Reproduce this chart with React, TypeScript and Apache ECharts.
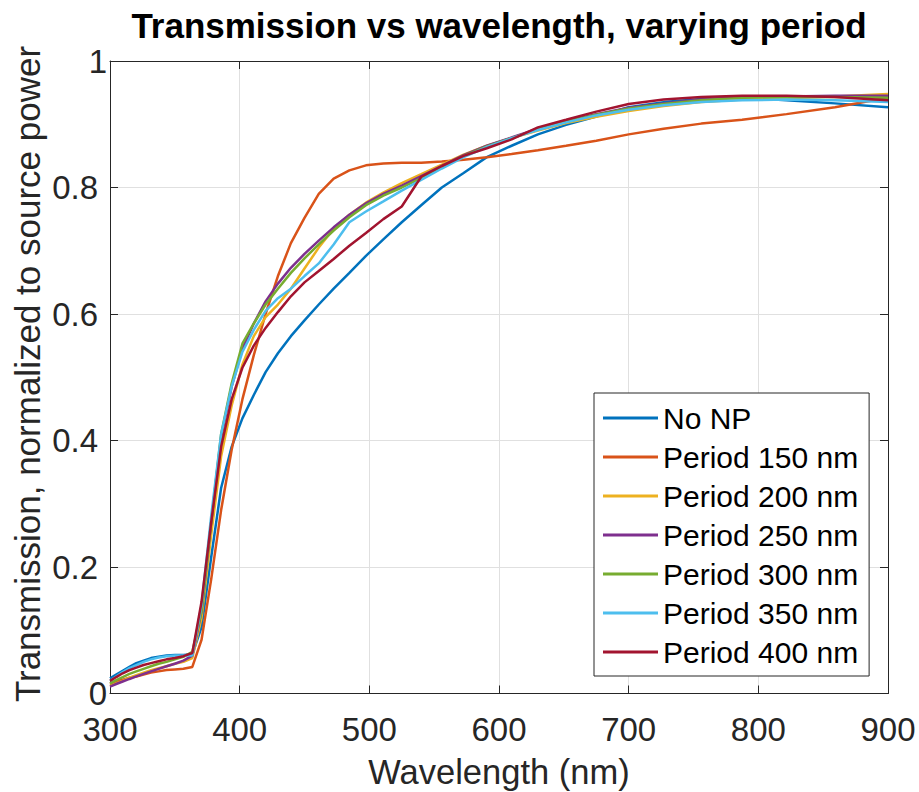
import React, { useEffect, useRef } from "react";
import * as echarts from "echarts";

// Sample wavelengths (nm)
const wavelengths = [
  300.0, 304.8, 309.8, 315.0, 320.3, 325.9, 331.6, 337.5, 343.6, 350.0, 356.6,
  363.5, 370.6, 378.0, 385.7, 393.8, 402.1, 410.9, 420.0, 429.5, 439.5, 450.0,
  461.0, 472.5, 484.6, 497.4, 510.8, 525.0, 540.0, 555.9, 572.7, 590.6, 609.7,
  630.0, 651.7, 675.0, 700.0, 726.9, 756.0, 787.5, 821.7, 859.1, 900.0,
];

const noNP = [
  0.024, 0.030, 0.036, 0.042, 0.048, 0.052, 0.056, 0.058, 0.060, 0.061, 0.061,
  0.062, 0.105, 0.215, 0.325, 0.390, 0.435, 0.472, 0.508, 0.538, 0.565, 0.590,
  0.615, 0.640, 0.665, 0.692, 0.718, 0.745, 0.772, 0.800, 0.823, 0.848, 0.866,
  0.884, 0.899, 0.912, 0.927, 0.935, 0.940, 0.942, 0.938, 0.933, 0.927,
];
const period150 = [
  0.015, 0.019, 0.022, 0.025, 0.027, 0.030, 0.033, 0.035, 0.037, 0.038, 0.039,
  0.042, 0.085, 0.180, 0.290, 0.385, 0.465, 0.535, 0.600, 0.660, 0.712, 0.752,
  0.790, 0.814, 0.827, 0.835, 0.838, 0.839, 0.839, 0.841, 0.844, 0.848, 0.853,
  0.859, 0.866, 0.874, 0.884, 0.893, 0.901, 0.907, 0.916, 0.927, 0.942,
];
const period200 = [
  0.012, 0.016, 0.020, 0.025, 0.029, 0.033, 0.037, 0.040, 0.043, 0.047, 0.050,
  0.056, 0.120, 0.250, 0.375, 0.455, 0.520, 0.565, 0.595, 0.615, 0.640, 0.672,
  0.705, 0.735, 0.757, 0.776, 0.792, 0.807, 0.821, 0.836, 0.852, 0.866, 0.878,
  0.890, 0.902, 0.912, 0.921, 0.929, 0.935, 0.939, 0.941, 0.944, 0.948,
];
const period250 = [
  0.011, 0.015, 0.019, 0.023, 0.027, 0.031, 0.035, 0.039, 0.043, 0.047, 0.052,
  0.060, 0.130, 0.270, 0.405, 0.485, 0.545, 0.585, 0.620, 0.648, 0.673, 0.695,
  0.716, 0.737, 0.757, 0.775, 0.790, 0.803, 0.818, 0.834, 0.851, 0.866, 0.879,
  0.893, 0.905, 0.916, 0.926, 0.933, 0.939, 0.943, 0.944, 0.945, 0.945,
];
const period300 = [
  0.016, 0.021, 0.026, 0.031, 0.035, 0.039, 0.043, 0.047, 0.050, 0.054, 0.058,
  0.066, 0.130, 0.270, 0.410, 0.490, 0.553, 0.585, 0.615, 0.640, 0.665, 0.688,
  0.710, 0.732, 0.753, 0.772, 0.787, 0.800, 0.815, 0.832, 0.850, 0.865, 0.878,
  0.892, 0.904, 0.915, 0.925, 0.932, 0.938, 0.942, 0.943, 0.943, 0.942,
];
const period350 = [
  0.020, 0.027, 0.034, 0.040, 0.045, 0.050, 0.054, 0.057, 0.059, 0.060, 0.060,
  0.060, 0.140, 0.280, 0.410, 0.485, 0.540, 0.575, 0.605, 0.625, 0.640, 0.660,
  0.680, 0.710, 0.745, 0.762, 0.778, 0.795, 0.812, 0.830, 0.848, 0.864, 0.878,
  0.891, 0.903, 0.914, 0.923, 0.930, 0.935, 0.938, 0.939, 0.938, 0.935,
];
const period400 = [
  0.020, 0.026, 0.032, 0.037, 0.041, 0.045, 0.048, 0.051, 0.054, 0.056, 0.059,
  0.064, 0.145, 0.270, 0.390, 0.465, 0.515, 0.550, 0.578, 0.603, 0.628, 0.650,
  0.668, 0.687, 0.708, 0.728, 0.750, 0.770, 0.817, 0.834, 0.850, 0.862, 0.876,
  0.895, 0.907, 0.920, 0.932, 0.939, 0.943, 0.945, 0.945, 0.943, 0.938,
];

const seriesNames = [
  "No NP",
  "Period 150 nm",
  "Period 200 nm",
  "Period 250 nm",
  "Period 300 nm",
  "Period 350 nm",
  "Period 400 nm",
];
const seriesValues = [noNP, period150, period200, period250, period300, period350, period400];
const seriesColors = ["#0072BD", "#D95319", "#EDB120", "#7E2F8E", "#77AC30", "#4DBEEE", "#A2142F"];

const xMin = 300;
const xMax = 900;
const xStep = 100;
const yMin = 0;
const yMax = 1;
const yStep = 0.2;

const titleText = "Transmission vs wavelength, varying period";
const xLabelText = "Wavelength (nm)";
const yLabelText = "Transmission, normalized to source power";

const FONT = "'Liberation Sans', Arial, Helvetica, sans-serif";
const AX = "#262626";

export default function App() {
  const ref = useRef<HTMLDivElement | null>(null);

  useEffect(() => {
    if (!ref.current) return;
    const chart = echarts.init(ref.current, undefined, { renderer: "svg" });

    const axisLineStyle = { show: true, onZero: false, lineStyle: { color: AX, width: 1 } };
    const tickStyle = { show: true, inside: true, length: 8, lineStyle: { color: AX, width: 1 } };

    const option: any = {
      animation: false,
      backgroundColor: "#ffffff",
      grid: {
        left: 110,
        right: 31,
        top: 61,
        bottom: 98.5,
        containLabel: false,
        outerBoundsMode: "none",
      },
      xAxis: [
        {
          type: "value",
          position: "bottom",
          min: xMin,
          max: xMax,
          interval: xStep,
          axisLine: axisLineStyle,
          axisTick: tickStyle,
          axisLabel: {
            color: AX,
            fontSize: 33,
            fontFamily: FONT,
            margin: 19,
            alignMinLabel: "center",
            alignMaxLabel: "center",
            hideOverlap: false,
          },
          splitLine: { show: true, lineStyle: { color: "#e0e0e0", width: 1 } },
        },
        {
          type: "value",
          position: "top",
          min: xMin,
          max: xMax,
          interval: xStep,
          axisLine: axisLineStyle,
          axisTick: tickStyle,
          axisLabel: { show: false },
          splitLine: { show: false },
        },
      ],
      yAxis: [
        {
          type: "value",
          position: "left",
          min: yMin,
          max: yMax,
          interval: yStep,
          axisLine: axisLineStyle,
          axisTick: tickStyle,
          axisLabel: {
            color: AX,
            fontSize: 33,
            fontFamily: FONT,
            margin: 12,
            alignMinLabel: "center",
            alignMaxLabel: "center",
          },
          splitLine: { show: true, lineStyle: { color: "#e0e0e0", width: 1 } },
        },
        {
          type: "value",
          position: "right",
          min: yMin,
          max: yMax,
          interval: yStep,
          axisLine: axisLineStyle,
          axisTick: tickStyle,
          axisLabel: { show: false },
          splitLine: { show: false },
        },
      ],
      legend: {
        orient: "vertical",
        left: 594,
        top: 393,
        icon: "rect",
        itemWidth: 55,
        itemHeight: 3,
        itemGap: 9,
        padding: [10, 11, 9, 9],
        borderColor: AX,
        borderWidth: 1,
        backgroundColor: "#ffffff",
        textStyle: { fontSize: 30, fontFamily: FONT, color: "#000", lineHeight: 30 },
        data: seriesNames,
      },
      series: seriesNames.map((name, i) => ({
        name,
        type: "line",
        xAxisIndex: 0,
        yAxisIndex: 0,
        showSymbol: false,
        symbol: "none",
        lineStyle: { color: seriesColors[i], width: 2.5 },
        itemStyle: { color: seriesColors[i] },
        data: wavelengths.map((w, k) => [w, seriesValues[i][k]]),
      })),
      graphic: [
        {
          type: "text",
          x: 499,
          y: 25,
          style: {
            text: titleText,
            fontSize: 35,
            fontWeight: "bold",
            fontFamily: FONT,
            fill: "#000",
            align: "center",
            verticalAlign: "middle",
          },
        },
        {
          type: "text",
          x: 499,
          y: 772,
          style: {
            text: xLabelText,
            fontSize: 34.5,
            fontFamily: FONT,
            fill: AX,
            align: "center",
            verticalAlign: "middle",
          },
        },
        {
          type: "text",
          x: 27,
          y: 374,
          rotation: Math.PI / 2,
          style: {
            text: yLabelText,
            fontSize: 35,
            fontFamily: FONT,
            fill: AX,
            align: "center",
            verticalAlign: "middle",
          },
        },
      ],
    };

    chart.setOption(option);
    return () => {
      chart.dispose();
    };
  }, []);

  return (
    <div
      ref={ref}
      style={{ position: "fixed", left: 0, top: 0, width: 919, height: 792, background: "#fff" }}
    />
  );
}
